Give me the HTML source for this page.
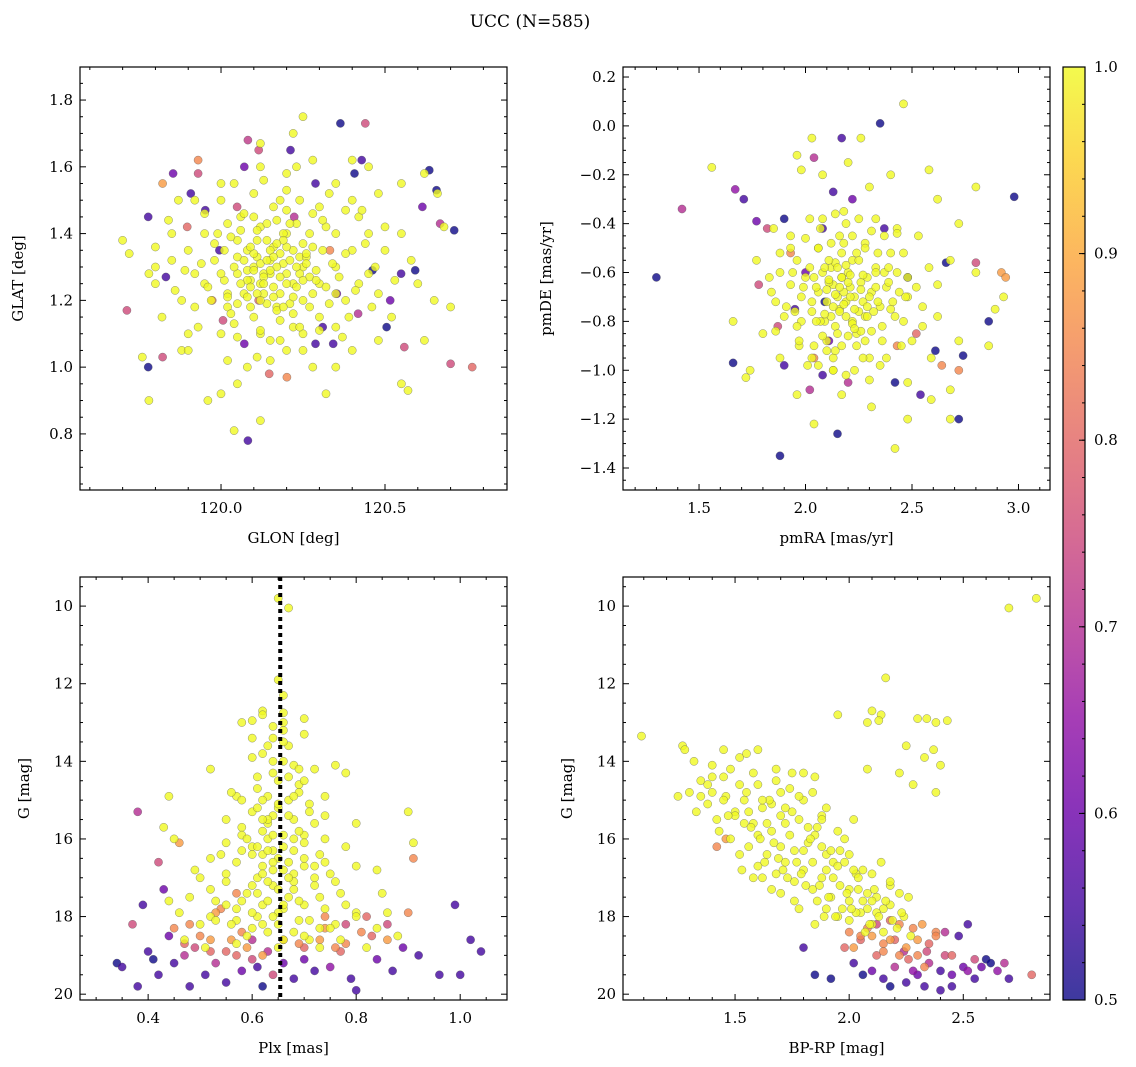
<!DOCTYPE html>
<html><head><meta charset="utf-8"><title>UCC (N=585)</title>
<style>
html,body{margin:0;padding:0;background:#fff;}
svg{display:block;font-family:"DejaVu Serif","Liberation Serif",serif;}
</style></head>
<body>
<svg id="chart" width="1136" height="1067" viewBox="0 0 1136 1067" xmlns="http://www.w3.org/2000/svg">
<defs>
<linearGradient id="plasma" x1="0" y1="1" x2="0" y2="0">
<stop offset="0" stop-color="#0d0887"/><stop offset="0.1" stop-color="#41049d"/><stop offset="0.2" stop-color="#6a00a8"/><stop offset="0.3" stop-color="#8f0da4"/><stop offset="0.4" stop-color="#b12a90"/><stop offset="0.5" stop-color="#cc4778"/><stop offset="0.6" stop-color="#e16462"/><stop offset="0.7" stop-color="#f2844b"/><stop offset="0.8" stop-color="#fca636"/><stop offset="0.9" stop-color="#fcce25"/><stop offset="1" stop-color="#f0f921"/>
</linearGradient>
</defs>
<text x="530" y="27" text-anchor="middle" font-size="17">UCC (N=585)</text>
<g id="layer"></g>
</svg>
<script>
// ---- Panel 1: GLON vs GLAT ----
const p1CoreGlon=[120.10,120.15,120.20,120.25,120.12,120.18,120.22,120.08,120.05,120.30,
120.14,120.20,120.28,120.02,120.35,120.17,120.10,120.25,119.98,120.12,
120.06,120.32,120.40,119.95,120.22,120.30,120.00,120.16,120.24,120.38,
119.90,119.88,120.45,120.42,120.50,119.85,119.80,120.55,120.60,120.52,
120.20,120.28,120.12,120.00,120.35,120.45,119.92,120.25,120.22,120.12,
119.72,119.70,119.76,119.78,119.80,119.82,119.88,119.90,119.96,120.00,
120.05,120.08,120.04,120.12,120.15,120.20,120.28,120.32,120.35,120.40,
120.48,120.55,120.57,120.62,120.65,120.70,120.68,120.66,120.62,120.55,
120.48,120.40,120.38,120.30,120.10,120.05,119.95,119.85,119.78,120.25,
120.18,120.12,120.02,119.92,120.45,120.42,120.35,120.48,120.58,120.15,
120.18,120.13,120.22,120.19,120.09,120.27,120.16,120.21,120.11,120.24];
const p1CoreGlat=[1.30,1.32,1.28,1.30,1.25,1.22,1.35,1.35,1.28,1.25,
1.38,1.40,1.36,1.22,1.30,1.18,1.15,1.20,1.32,1.42,
1.45,1.42,1.35,1.25,1.12,1.15,1.10,1.48,1.50,1.20,
1.35,1.20,1.28,1.45,1.35,1.40,1.30,1.40,1.25,1.15,
1.58,1.62,1.60,1.55,1.55,1.60,1.50,1.75,1.70,1.67,
1.34,1.38,1.03,0.90,1.25,1.15,1.05,1.10,0.90,0.92,
0.95,1.00,0.81,0.84,1.02,1.05,1.00,0.92,1.00,1.05,
1.08,0.95,0.93,1.08,1.20,1.18,1.42,1.52,1.58,1.55,
1.52,1.62,1.47,1.48,1.52,1.38,1.40,1.32,1.28,1.10,
1.08,1.10,1.18,1.28,1.40,1.25,1.12,1.22,1.32,1.28,
1.34,1.22,1.25,1.31,1.26,1.27,1.36,1.19,1.33,1.33];
const p1DenseGlon=[120.02,120.05,120.08,120.11,120.14,120.17,120.20,120.23,120.26,120.29,
120.04,120.07,120.10,120.13,120.16,120.19,120.22,120.25,120.28,120.31,
120.01,120.06,120.09,120.12,120.15,120.18,120.21,120.24,120.27,120.33,
119.98,120.03,120.08,120.11,120.14,120.17,120.20,120.23,120.26,120.36,
119.96,120.02,120.07,120.10,120.13,120.16,120.19,120.22,120.29,120.38,
119.94,120.00,120.05,120.09,120.12,120.15,120.18,120.25,120.31,120.41,
120.03,120.06,120.11,120.14,120.17,120.20,120.23,120.27,120.34,120.44,
119.92,119.99,120.04,120.09,120.13,120.16,120.21,120.26,120.32,120.47,
119.89,119.97,120.01,120.07,120.12,120.18,120.24,120.28,120.35,120.39,
119.86,119.95,120.00,120.05,120.10,120.15,120.20,120.30,120.37,120.43,
119.84,119.93,120.04,120.08,120.13,120.19,120.25,120.33,120.40,120.50,
119.80,119.87,119.90,120.02,120.11,120.17,120.23,120.35,120.46,120.53];
const p1DenseGlat=[1.21,1.33,1.26,1.38,1.19,1.30,1.36,1.24,1.33,1.29,
1.30,1.22,1.34,1.28,1.24,1.40,1.21,1.37,1.22,1.35,
1.26,1.41,1.18,1.31,1.35,1.27,1.32,1.28,1.40,1.19,
1.37,1.16,1.29,1.22,1.43,1.17,1.25,1.43,1.31,1.27,
1.24,1.43,1.32,1.45,1.27,1.33,1.38,1.16,1.26,1.34,
1.31,1.28,1.19,1.24,1.20,1.29,1.14,1.26,1.44,1.23,
1.39,1.25,1.41,1.32,1.37,1.47,1.30,1.18,1.31,1.37,
1.18,1.40,1.13,1.36,1.25,1.21,1.43,1.34,1.24,1.30,
1.29,1.20,1.35,1.46,1.11,1.50,1.12,1.46,1.40,1.15,
1.23,1.46,1.50,1.09,1.29,1.08,1.53,1.11,1.09,1.47,
1.44,1.12,1.55,1.21,1.56,1.18,1.05,1.52,1.50,1.42,
1.36,1.50,1.05,1.02,1.03,1.44,1.60,1.22,1.18,1.26];
const p1CoreProb=1.0;
const p1Glon=[120.364,120.440,120.082,120.212,120.115,119.854,119.930,119.930,119.822,120.635,
120.657,120.668,120.711,120.592,119.778,119.713,119.778,119.822,120.082,120.700,
120.462,120.201,120.288,120.342,120.559,120.407,120.429,119.995,120.049,119.952,
119.908,120.549,120.353,120.115,120.006,120.310,120.418,119.897,120.332,120.505,
120.147,120.071,120.614,120.071,119.832,120.288,120.516,120.766,120.223,119.973];
const p1Glat=[1.73,1.73,1.68,1.65,1.65,1.58,1.62,1.58,1.55,1.59,
1.53,1.43,1.41,1.29,1.45,1.17,1.00,1.03,0.78,1.01,
1.29,0.97,1.07,1.07,1.06,1.58,1.62,1.35,1.48,1.47,
1.52,1.28,1.22,1.20,1.14,1.12,1.16,1.42,1.35,1.12,
0.98,1.07,1.48,1.60,1.27,1.55,1.20,1.00,1.45,1.20];
const p1Prob=[0.5,0.75,0.72,0.55,0.75,0.6,0.85,0.75,0.88,0.5,
0.5,0.7,0.5,0.5,0.55,0.75,0.5,0.75,0.55,0.75,
0.5,0.85,0.55,0.55,0.75,0.5,0.55,0.55,0.75,0.55,
0.55,0.55,0.6,0.8,0.75,0.55,0.7,0.8,0.85,0.5,
0.8,0.6,0.6,0.6,0.55,0.55,0.6,0.8,0.7,0.85];

// ---- Panel 2: pmRA vs pmDE ----
const p2CorePmra=[2.18,2.13,2.23,2.16,2.20,2.10,2.26,2.08,2.28,2.14,
2.22,2.06,2.31,2.17,2.24,2.03,2.33,2.12,2.19,2.27,
2.00,2.38,2.10,2.36,2.16,2.28,1.98,2.43,2.06,2.40,
1.93,1.96,2.48,2.46,2.13,2.30,2.03,2.23,1.90,2.55,
2.18,2.33,2.08,2.43,1.88,1.86,2.62,2.68,2.80,2.89,
2.93,2.62,2.53,2.40,2.30,2.20,2.08,1.98,1.96,2.26,
1.56,1.66,1.74,1.72,1.80,1.88,1.96,2.04,2.17,2.31,
2.42,2.48,2.59,2.68,2.59,2.72,2.68,2.80,1.83,1.77,
2.03,1.93,1.85,2.58,2.72,2.48,2.13,1.97,2.46,2.86,
2.15,2.21,2.11,2.25,2.17,2.19,2.09,2.29,2.22,2.14];
const p2CorePmde=[-0.68,-0.65,-0.70,-0.75,-0.60,-0.72,-0.64,-0.60,-0.78,-0.82,
-0.55,-0.68,-0.68,-0.52,-0.85,-0.76,-0.58,-0.58,-0.78,-0.72,
-0.62,-0.66,-0.88,-0.82,-0.45,-0.48,-0.80,-0.60,-0.50,-0.75,
-0.65,-0.55,-0.70,-0.52,-0.95,-0.95,-0.95,-1.00,-0.78,-0.82,
-0.35,-0.38,-0.38,-0.42,-0.60,-0.72,-0.65,-0.55,-0.25,-0.75,
-0.70,-0.30,-0.45,-0.20,-0.25,-0.15,-0.20,-0.18,-0.12,-0.05,
-0.17,-0.80,-1.00,-1.03,-0.85,-0.95,-1.10,-1.22,-1.10,-1.15,
-1.32,-1.20,-1.12,-1.08,-0.95,-0.88,-1.20,-0.60,-0.62,-0.55,
-0.05,-0.45,-0.42,-0.18,-0.40,-1.05,-1.00,-0.90,0.09,-0.90,
-0.70,-0.66,-0.64,-0.76,-0.62,-0.72,-0.80,-0.62,-0.80,-0.56];
const p2DensePmra=[2.05,2.09,2.13,2.17,2.21,2.25,2.29,2.33,2.37,2.41,
2.03,2.07,2.11,2.15,2.19,2.23,2.27,2.31,2.35,2.39,
2.06,2.10,2.14,2.18,2.22,2.26,2.30,2.34,2.12,2.20,
1.98,2.02,2.08,2.12,2.16,2.24,2.28,2.36,2.44,2.48,
1.96,2.00,2.04,2.14,2.18,2.22,2.26,2.32,2.40,2.46,
1.94,2.01,2.07,2.11,2.17,2.21,2.27,2.33,2.38,2.52,
1.91,1.99,2.05,2.13,2.19,2.25,2.29,2.35,2.42,2.55,
1.88,1.97,2.02,2.09,2.15,2.23,2.31,2.37,2.45,2.58,
1.86,1.93,2.04,2.10,2.16,2.20,2.28,2.34,2.43,2.50,
1.84,1.95,2.06,2.14,2.19,2.24,2.30,2.39,2.47,2.62];
const p2DensePmde=[-0.66,-0.58,-0.74,-0.62,-0.70,-0.55,-0.78,-0.66,-0.60,-0.72,
-0.72,-0.80,-0.55,-0.85,-0.57,-0.75,-0.61,-0.84,-0.74,-0.58,
-0.50,-0.67,-0.69,-0.73,-0.81,-0.67,-0.70,-0.52,-0.78,-0.64,
-0.70,-0.58,-0.86,-0.48,-0.66,-0.90,-0.50,-0.88,-0.68,-0.62,
-0.82,-0.46,-0.90,-0.92,-0.48,-0.45,-0.84,-0.76,-0.52,-0.80,
-0.60,-0.98,-0.42,-0.63,-0.90,-0.61,-0.95,-0.60,-0.95,-0.66,
-0.74,-0.66,-0.80,-1.00,-0.40,-0.38,-0.74,-0.98,-0.78,-0.74,
-0.52,-0.88,-0.38,-0.77,-0.58,-0.83,-0.43,-0.45,-0.90,-0.58,
-0.84,-0.50,-0.62,-0.92,-0.76,-0.86,-0.88,-0.72,-0.44,-0.88,
-0.68,-0.76,-0.98,-0.36,-1.02,-0.52,-1.04,-0.64,-0.70,-0.78];
const p2CoreProb=1.0;
const p2Pmra=[1.30,1.88,2.35,2.17,2.98,1.42,2.80,2.92,2.94,2.74,
2.72,2.15,2.02,1.67,1.71,1.78,1.82,1.77,1.90,1.90,
1.66,2.04,1.95,2.00,2.08,2.43,2.52,2.61,2.64,2.86,
2.08,2.13,2.37,2.22,2.04,2.09,2.11,2.48,2.66,2.54,
1.93,2.20,1.87,2.42,2.72];
const p2Pmde=[-0.62,-1.35,0.01,-0.05,-0.29,-0.34,-0.56,-0.60,-0.62,-0.94,
-1.20,-1.26,-1.08,-0.26,-0.30,-0.65,-0.42,-0.39,-0.38,-0.98,
-0.97,-0.95,-0.75,-0.60,-1.02,-0.90,-0.85,-0.92,-0.98,-0.80,
-0.42,-0.27,-0.42,-0.30,-0.13,-0.72,-0.88,-0.62,-0.56,-1.10,
-0.52,-1.05,-0.82,-1.05,-1.00];
const p2Prob=[0.5,0.5,0.5,0.55,0.5,0.7,0.75,0.88,0.88,0.5,
0.5,0.5,0.7,0.65,0.55,0.75,0.75,0.6,0.5,0.55,
0.5,0.85,0.55,0.6,0.55,0.85,0.8,0.5,0.85,0.5,
0.55,0.55,0.55,0.6,0.7,0.5,0.6,0.5,0.5,0.55,
0.85,0.7,0.75,0.5,0.85];

// ---- Panel 3: Plx vs G ----
const p3CorePlx=[0.65,0.67,0.65,0.66,0.62,0.66,0.70,0.60,0.64,0.70,
0.63,0.67,0.60,0.64,0.68,0.76,0.72,0.61,0.65,0.69,
0.52,0.57,0.63,0.67,0.71,0.60,0.64,0.68,0.74,0.58,
0.62,0.66,0.70,0.55,0.60,0.64,0.68,0.73,0.78,0.52,
0.57,0.62,0.66,0.70,0.75,0.80,0.50,0.55,0.60,0.64,
0.68,0.72,0.77,0.48,0.53,0.58,0.62,0.66,0.70,0.74,
0.80,0.46,0.52,0.57,0.61,0.65,0.69,0.73,0.84,0.88,
0.44,0.43,0.45,0.91,0.90,0.80,0.78,0.84,0.58,0.56,
0.63,0.65,0.61,0.67,0.63,0.59,0.71,0.76,0.55,0.74,
0.65,0.62,0.69,0.64,0.66,0.62,0.68,0.60,0.72,0.58];
const p3CoreG=[9.8,10.05,11.9,12.3,12.7,12.75,12.9,12.95,13.1,13.3,
13.6,13.6,13.9,14.0,14.1,14.1,14.2,14.4,14.5,14.6,
14.2,14.9,14.9,15.0,15.1,15.3,15.4,15.5,15.4,15.7,
15.8,15.9,15.9,16.1,16.2,16.3,16.3,16.4,16.2,16.5,
16.6,16.7,16.8,16.7,16.9,16.7,17.0,17.1,17.2,17.2,
17.3,17.2,17.4,17.5,17.6,17.6,17.7,17.8,17.7,17.8,
17.9,17.9,18.0,18.1,18.0,18.2,18.1,18.3,18.3,18.5,
14.9,15.7,16.0,16.1,15.3,15.6,14.3,16.8,13.0,14.8,
16.0,16.5,17.0,17.5,18.4,18.5,18.6,18.2,16.9,16.0,
15.2,15.0,14.8,13.4,13.0,16.4,16.9,17.9,17.0,16.3];
const p3DensePlx=[0.62,0.64,0.66,0.68,0.63,0.65,0.67,0.69,0.61,0.70,
0.60,0.62,0.64,0.66,0.68,0.70,0.72,0.59,0.63,0.67,
0.57,0.61,0.65,0.69,0.73,0.56,0.60,0.64,0.68,0.71,
0.62,0.66,0.64,0.63,0.67,0.65,0.61,0.69,0.66,0.63,
0.54,0.58,0.71,0.74,0.52,0.76,0.55,0.78,0.50,0.80,
0.47,0.51,0.53,0.57,0.59,0.70,0.73,0.75,0.77,0.82,
0.60,0.62,0.64,0.66,0.68,0.62,0.66,0.58,0.70,0.72,
0.85,0.44,0.49,0.86,0.55,0.74,0.63,0.67,0.65,0.61];
const p3DenseG=[13.8,14.3,13.5,14.9,15.6,15.1,14.4,15.8,15.2,16.1,
16.4,16.9,16.6,16.2,17.1,16.5,16.7,17.4,17.6,17.0,
17.8,17.4,17.9,17.6,17.5,18.2,18.3,18.0,18.4,18.1,
12.8,13.2,15.9,16.3,15.4,17.3,14.7,14.2,17.7,15.5,
16.4,15.9,15.3,16.6,17.3,17.1,17.7,17.7,18.2,18.0,
18.6,18.8,18.1,18.7,16.0,18.5,18.8,18.3,18.6,18.8,
13.4,15.5,16.8,14.0,16.0,18.2,18.6,15.0,14.5,15.6,
17.4,17.6,16.8,17.9,15.5,14.9,17.1,16.6,18.8,16.2];
const p3CoreProb=1.0;
const p3Plx=[0.34,0.35,0.38,0.37,0.38,0.40,0.39,0.41,0.42,0.43,
0.42,0.44,0.45,0.47,0.46,0.48,0.49,0.50,0.51,0.52,
0.53,0.54,0.55,0.56,0.57,0.58,0.59,0.61,0.62,0.63,
0.64,0.66,0.68,0.69,0.70,0.72,0.73,0.75,0.77,0.79,
0.80,0.81,0.82,0.84,0.86,0.87,0.89,0.90,0.91,0.92,
0.96,0.99,1.00,1.02,1.04,0.48,0.57,0.60,0.78,0.74,
0.45,0.52,0.55,0.58,0.62,0.66,0.70,0.74,0.78,0.83,0.47,0.53,0.60,0.76,0.86];
const p3G=[19.2,19.3,19.8,18.2,15.3,18.9,17.7,19.1,19.5,17.3,
16.6,18.5,19.2,18.7,16.1,19.8,18.8,18.5,19.5,18.9,
19.2,17.8,19.7,18.6,19.0,19.4,18.8,19.3,19.8,18.9,
19.5,19.2,19.6,18.7,19.1,19.4,18.6,19.3,18.9,19.6,
19.9,18.4,18.0,19.1,18.6,19.4,18.8,17.9,16.5,19.0,
19.5,17.7,19.5,18.6,18.9,18.2,17.4,18.6,18.2,18.0,
18.3,18.6,18.9,18.4,19.0,18.6,18.8,18.3,18.7,18.5,19.0,17.9,19.1,18.8,18.2];
const p3Prob=[0.5,0.55,0.55,0.75,0.7,0.55,0.55,0.5,0.55,0.6,
0.75,0.6,0.55,0.8,0.88,0.55,0.75,0.85,0.55,0.8,
0.7,0.85,0.55,0.88,0.8,0.6,0.88,0.55,0.5,0.7,
0.75,0.6,0.55,0.85,0.6,0.55,0.88,0.65,0.8,0.55,
0.55,0.85,0.8,0.6,0.88,0.55,0.6,0.85,0.85,0.55,
0.55,0.55,0.55,0.55,0.55,0.85,0.85,0.7,0.75,0.85,
0.85,0.88,0.8,0.85,0.88,0.85,0.8,0.88,0.85,0.8,0.7,0.88,0.75,0.85,0.75];
const plxLine=0.654;

// ---- Panel 4: BP-RP vs G ----
const p4CoreBprp=[1.09,1.27,1.28,1.32,1.25,1.30,1.35,1.40,1.45,1.52,
1.55,1.60,1.68,1.75,1.80,1.85,1.33,1.38,1.42,1.46,
1.50,1.54,1.58,1.62,1.66,1.70,1.74,1.78,1.82,1.86,
1.90,1.48,1.52,1.56,1.60,1.64,1.68,1.72,1.76,1.80,
1.84,1.88,1.92,1.96,2.00,2.04,2.08,2.12,1.90,1.95,
2.00,2.05,2.10,2.15,1.58,1.62,1.70,1.78,1.85,1.93,
1.98,2.02,1.45,1.60,1.70,1.80,1.90,2.00,2.10,2.18,
1.95,2.10,2.14,2.08,2.13,2.30,2.34,2.38,2.43,2.25,
2.37,2.33,2.40,2.28,2.22,2.38,2.70,2.82,2.16,2.08,
1.66,1.72,1.76,1.84,2.06,2.14,2.22,1.40,1.54,1.88];
const p4CoreG=[13.35,13.6,13.7,14.0,14.9,14.8,14.5,14.1,13.7,13.9,
13.8,13.7,14.2,14.3,14.3,14.4,15.3,15.1,15.5,14.9,
15.3,15.0,15.6,15.2,15.8,15.4,15.9,15.5,16.1,15.7,
16.4,16.0,16.4,16.2,16.7,16.4,16.9,16.6,17.1,16.8,
17.3,17.0,17.5,17.2,17.6,17.3,17.8,17.5,17.8,18.0,
18.1,17.9,18.2,17.8,17.0,17.0,17.4,17.8,18.2,16.6,
16.0,15.5,14.4,14.6,14.8,15.0,15.2,16.4,16.9,17.2,
12.8,12.7,12.8,13.0,12.95,12.9,12.9,13.0,12.95,13.6,
13.7,13.9,14.1,14.6,14.3,14.8,10.05,9.8,11.85,14.2,
15.1,15.6,16.3,16.6,16.8,16.6,17.4,14.8,15.6,16.2];
const p4DenseBprp=[1.50,1.55,1.60,1.65,1.70,1.75,1.80,1.85,1.90,1.95,
1.52,1.57,1.62,1.67,1.72,1.77,1.82,1.87,1.92,1.97,
2.00,2.03,2.06,2.09,2.12,2.15,2.18,2.21,2.24,2.27,
1.78,1.83,1.88,1.93,1.98,2.03,2.08,2.13,2.18,2.23,
1.45,1.58,1.63,1.68,1.73,1.88,1.95,2.01,2.07,2.16,
1.38,1.43,1.48,1.64,1.69,1.84,1.91,1.96,2.04,2.11,
1.35,1.40,1.47,1.56,1.74,1.79,1.86,1.94,2.02,2.19,
1.53,1.61,1.66,1.71,1.76,1.81,1.89,1.99,2.10,2.26];
const p4DenseG=[15.4,14.8,15.9,15.0,16.2,15.3,16.3,15.9,16.8,16.7,
14.6,15.7,15.0,16.1,15.2,16.6,15.7,17.2,16.3,17.8,
17.3,17.9,17.6,18.2,17.9,18.4,17.7,18.3,18.0,18.5,
14.9,16.0,15.4,17.0,16.6,16.9,17.4,18.0,17.1,17.9,
15.0,14.3,16.6,14.5,17.0,15.5,15.8,17.8,18.4,17.6,
14.6,15.8,14.2,15.6,16.5,14.8,17.5,16.3,17.0,17.3,
14.9,14.4,15.4,15.3,14.7,16.9,17.6,18.0,16.8,18.1,
16.8,16.0,17.3,16.8,17.6,17.2,18.0,17.4,17.6,17.5];
const p4CoreProb=1.0;
const p4Bprp=[1.42,1.46,2.00,2.05,2.10,2.15,2.20,2.25,2.30,2.35,
2.02,2.06,2.10,2.15,2.20,2.25,2.30,2.35,2.40,2.45,
2.50,2.55,2.60,2.65,2.70,2.80,2.52,2.48,2.42,1.85,
1.92,1.80,2.18,2.33,2.40,2.28,2.38,2.12,1.98,2.22,
2.45,2.55,2.33,2.18,2.62,
2.02,2.08,2.12,2.18,2.22,2.26,2.30,2.34,2.38,2.15,2.24,2.32,2.42,2.05,2.28,2.45,2.52,2.58,2.68];
const p4G=[16.2,16.0,18.4,18.6,18.5,18.9,18.6,18.8,19.0,18.7,
19.2,19.5,19.4,19.6,19.3,19.7,19.5,19.2,19.4,19.8,
19.3,19.6,19.1,19.4,19.6,19.5,18.2,18.5,18.4,19.5,
19.6,18.8,19.8,19.8,19.9,18.3,18.4,18.2,18.8,19.0,
19.0,19.1,19.3,18.1,19.2,
18.8,18.3,19.0,18.6,18.2,19.1,18.6,18.9,18.5,18.7,18.9,18.2,19.0,18.5,19.4,19.5,19.4,19.3,19.2];
const p4Prob=[0.85,0.88,0.85,0.8,0.88,0.85,0.8,0.88,0.85,0.8,
0.55,0.5,0.6,0.55,0.7,0.55,0.6,0.7,0.55,0.55,
0.6,0.55,0.5,0.65,0.55,0.8,0.55,0.55,0.7,0.5,
0.5,0.55,0.5,0.55,0.55,0.85,0.85,0.75,0.8,0.85,
0.8,0.75,0.85,0.8,0.5,
0.88,0.85,0.8,0.88,0.85,0.8,0.88,0.75,0.85,0.85,0.7,0.88,0.75,0.85,0.65,0.6,0.65,0.6,0.7];

// ---- Colorbar ----
const cbarTicks=[0.5,0.6,0.7,0.8,0.9,1.0];
const cbarMin=0.5, cbarMax=1.0;

const NS="http://www.w3.org/2000/svg";
const layer=document.getElementById('layer');
function mk(tag,attrs,parent){const e=document.createElementNS(NS,tag);for(const k in attrs)e.setAttribute(k,attrs[k]);(parent||layer).appendChild(e);return e;}

const stops=[[13,8,135],[65,4,157],[106,0,168],[143,13,164],[177,42,144],[204,71,120],[225,100,98],[242,132,75],[252,166,54],[252,206,37],[240,249,33]];
function plasma(v){let t=(v-cbarMin)/(cbarMax-cbarMin);t=Math.max(0,Math.min(1,t))*10;const i=Math.min(9,Math.floor(t)),f=t-i;const a=stops[i],b=stops[i+1];return 'rgb('+[0,1,2].map(k=>Math.round(a[k]+(b[k]-a[k])*f)).join(',')+')';}

function fmt(v,d){let s=v.toFixed(d);return s.replace('-','\u2212');}

function panel(cfg){
  const g=mk('g',{});
  
  
  const sx=v=>cfg.x0+(v-cfg.xd[0])/(cfg.xd[1]-cfg.xd[0])*(cfg.x1-cfg.x0);
  const sy=v=>cfg.y1-(v-cfg.yd[0])/(cfg.yd[1]-cfg.yd[0])*(cfg.y1-cfg.y0);
  const pts=[];
  cfg.cores.forEach(set=>set[0].forEach((v,i)=>pts.push([v,set[1][i],cfg.cp])));
  cfg.px.forEach((v,i)=>pts.push([v,cfg.py[i],cfg.pp[i]]));
  pts.sort((a,b)=>a[2]-b[2]);
  const pg=mk('g',{},g);
  
  
  pts.forEach(p=>{
    const c=mk('circle',{cx:sx(p[0]).toFixed(1),cy:sy(p[1]).toFixed(1),r:4.1,fill:plasma(p[2]),'fill-opacity':0.8,stroke:'#555','stroke-width':0.4,'stroke-opacity':0.8},pg);
    
    
  });
  if(cfg.vline!==undefined){
    const l=mk('line',{x1:sx(cfg.vline),x2:sx(cfg.vline),y1:cfg.y0,y2:cfg.y1,stroke:'#000','stroke-width':4,'stroke-dasharray':'4,4'},g);
    
    
  }
  const fr=mk('rect',{x:cfg.x0,y:cfg.y0,width:cfg.x1-cfg.x0,height:cfg.y1-cfg.y0,fill:'none',stroke:'#000','stroke-width':1.2},g);
  
  
  const tk=mk('g',{stroke:'#000','stroke-width':1},g);
  const lo=Math.min(...cfg.xd),hi=Math.max(...cfg.xd);
  for(let k=Math.ceil(lo/cfg.xminor-1e-6);k*cfg.xminor<=hi+1e-9;k++){
    const v=k*cfg.xminor,X=sx(v);
    const major=Math.abs(v/cfg.xmajor-Math.round(v/cfg.xmajor))<1e-6;
    const L=major?6:3;
    mk('line',{x1:X,x2:X,y1:cfg.y1,y2:cfg.y1-L},tk);
    mk('line',{x1:X,x2:X,y1:cfg.y0,y2:cfg.y0+L},tk);
    if(major){const t=mk('text',{x:X,y:cfg.y1+23,'text-anchor':'middle','font-size':15,stroke:'none'},g);t.textContent=fmt(v,cfg.xdec);
      
      }
  }
  const ylo=Math.min(...cfg.yd),yhi=Math.max(...cfg.yd);
  for(let k=Math.ceil(ylo/cfg.yminor-1e-6);k*cfg.yminor<=yhi+1e-9;k++){
    const v=k*cfg.yminor,Y=sy(v);
    const major=Math.abs(v/cfg.ymajor-Math.round(v/cfg.ymajor))<1e-6;
    const L=major?6:3;
    mk('line',{x1:cfg.x0,x2:cfg.x0+L,y1:Y,y2:Y},tk);
    mk('line',{x1:cfg.x1,x2:cfg.x1-L,y1:Y,y2:Y},tk);
    if(major){const t=mk('text',{x:cfg.x0-7,y:Y+5,'text-anchor':'end','font-size':15,stroke:'none'},g);t.textContent=fmt(v,cfg.ydec);
      
      }
  }
  const xl=mk('text',{x:(cfg.x0+cfg.x1)/2,y:cfg.y1+53,'text-anchor':'middle','font-size':15},g);
  xl.textContent=cfg.xlabel;
  
  
  const yl=mk('text',{x:0,y:0,'text-anchor':'middle','font-size':15,transform:'translate('+cfg.ylx+','+(cfg.y0+cfg.y1)/2+') rotate(-90)'},g);
  yl.textContent=cfg.ylabel;
  
  
}

panel({name:'glon-glat-panel',x0:80,x1:507,y0:67,y1:490,xd:[119.570,120.872],yd:[0.632,1.899],
  cores:[[p1CoreGlon,p1CoreGlat],[p1DenseGlon,p1DenseGlat]],cp:p1CoreProb,px:p1Glon,py:p1Glat,pp:p1Prob,
  xmajor:0.5,xminor:0.1,xdec:1,ymajor:0.2,yminor:0.05,ydec:1,xlabel:'GLON [deg]',ylabel:'GLAT [deg]',ylx:23});
panel({name:'proper-motion-panel',x0:623,x1:1050,y0:67,y1:490,xd:[1.143,3.148],yd:[-1.49,0.241],
  cores:[[p2CorePmra,p2CorePmde],[p2DensePmra,p2DensePmde]],cp:p2CoreProb,px:p2Pmra,py:p2Pmde,pp:p2Prob,
  xmajor:0.5,xminor:0.1,xdec:1,ymajor:0.2,yminor:0.05,ydec:1,xlabel:'pmRA [mas/yr]',ylabel:'pmDE [mas/yr]',ylx:551});
panel({name:'plx-g-panel',x0:80,x1:507,y0:577,y1:1000,xd:[0.269,1.090],yd:[20.15,9.25],
  cores:[[p3CorePlx,p3CoreG],[p3DensePlx,p3DenseG]],cp:p3CoreProb,px:p3Plx,py:p3G,pp:p3Prob,vline:plxLine,
  xmajor:0.2,xminor:0.05,xdec:1,ymajor:2,yminor:0.5,ydec:0,xlabel:'Plx [mas]',ylabel:'G [mag]',ylx:29});
panel({name:'cmd-panel',x0:623,x1:1050,y0:577,y1:1000,xd:[1.009,2.88],yd:[20.15,9.25],
  cores:[[p4CoreBprp,p4CoreG],[p4DenseBprp,p4DenseG]],cp:p4CoreProb,px:p4Bprp,py:p4G,pp:p4Prob,
  xmajor:0.5,xminor:0.1,xdec:1,ymajor:2,yminor:0.5,ydec:0,xlabel:'BP-RP [mag]',ylabel:'G [mag]',ylx:572});

(function(){
  const x0=1063,x1=1085,y0=67,y1=1000;
  const g=mk('g',{});
  
  
  mk('rect',{x:x0,y:y0,width:x1-x0,height:y1-y0,fill:'url(#plasma)','fill-opacity':0.8},g);
  mk('rect',{x:x0,y:y0,width:x1-x0,height:y1-y0,fill:'none',stroke:'#000','stroke-width':1.2},g);
  const sy=v=>y1-(v-cbarMin)/(cbarMax-cbarMin)*(y1-y0);
  for(let k=25;k<=50;k++){const v=k*0.02,Y=sy(v);mk('line',{x1:x1,x2:x1-3,y1:Y,y2:Y,stroke:'#000','stroke-width':1},g);}
  cbarTicks.forEach(v=>{const Y=sy(v);mk('line',{x1:x1,x2:x1-6,y1:Y,y2:Y,stroke:'#000','stroke-width':1},g);
    const t=mk('text',{x:x1+9,y:Y+5,'font-size':15},g);t.textContent=v.toFixed(1);
    
    });
})();
</script>
</body></html>
